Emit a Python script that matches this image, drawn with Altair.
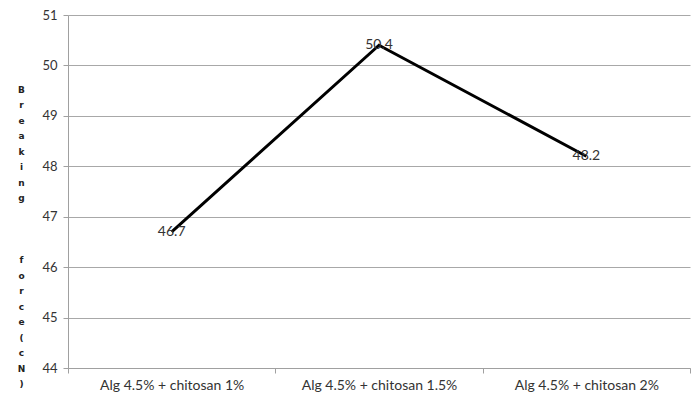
import altair as alt
import pandas as pd

# Breaking force per formulation
treatments = ["Alg 4.5% + chitosan 1%", "Alg 4.5% + chitosan 1.5%", "Alg 4.5% + chitosan 2%"]
breaking_force = [46.7, 50.4, 48.2]
y_ticks = [44, 45, 46, 47, 48, 49, 50, 51]

df = pd.DataFrame({"treatment": treatments, "force": breaking_force})
df["label"] = df["force"].map(lambda v: f"{v:.1f}")

# Axis title written one letter per line; blank braille cells keep the word gap
BLANK = "\u2800"
title_lines = list("Breaking") + [BLANK, BLANK, BLANK] + list("force(cN)")

x_enc = alt.X(
    "treatment:N",
    sort=treatments,
    scale=alt.Scale(paddingInner=0, paddingOuter=0),
    axis=alt.Axis(
        title=None, labelAngle=0, tickBand="extent", grid=False,
        domainColor="#a0a0a0", tickColor="#a0a0a0", tickSize=5,
        labelFont="Lato", labelFontSize=14, labelColor="#333333",
        labelPadding=5,
    ),
)
y_enc = alt.Y(
    "force:Q",
    scale=alt.Scale(domain=[44, 51], nice=False, zero=False),
    axis=alt.Axis(
        values=y_ticks, title=title_lines, titleAngle=0,
        titleFont="DejaVu Sans", titleFontSize=9, titleFontWeight="bold",
        titleColor="#222222", titleLineHeight=15.5,
        titleBaseline="top", titleAlign="center",
        titleX=-47, titleY=70,
        gridColor="#a8a8a8", domainColor="#a0a0a0", tickColor="#a0a0a0",
        tickSize=5, labelFont="Lato", labelFontSize=13,
        labelColor="#333333", labelPadding=6,
    ),
)

line = alt.Chart(df).mark_line(color="black", strokeWidth=3).encode(x=x_enc, y=y_enc)
labels = alt.Chart(df).mark_text(
    font="Lato", fontSize=14, color="#333333", align="center", baseline="middle"
).encode(x=x_enc, y=y_enc, text="label:N")

chart = (
    alt.layer(line, labels)
    .properties(
        width=622, height=353,
        autosize=alt.AutoSizeParams(type="none"),
        padding={"left": 68, "top": 15, "right": 7, "bottom": 31},
        background="white",
    )
    .configure_view(stroke=None)
)

chart.save("out.html", embed_options={"renderer": "svg", "actions": False})
